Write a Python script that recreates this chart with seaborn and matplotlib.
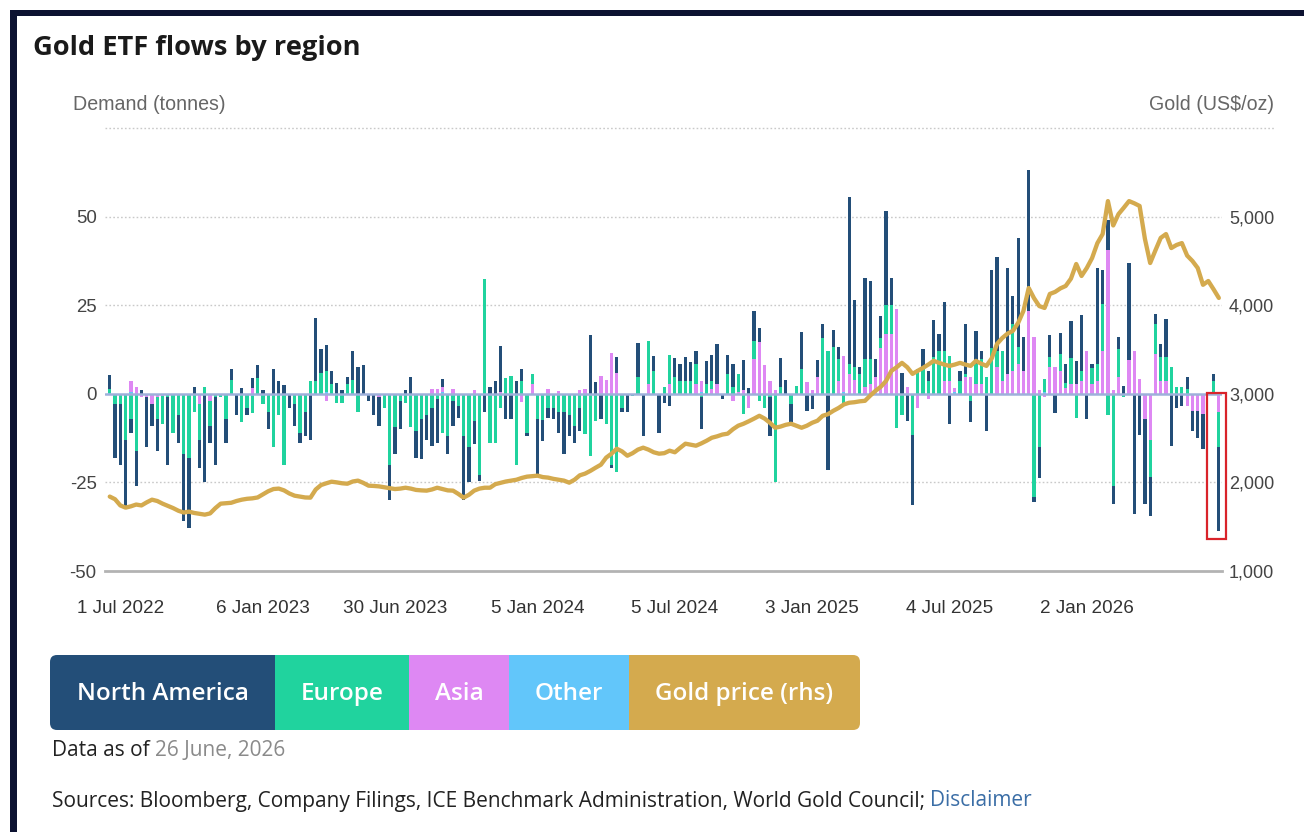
import numpy as np
import pandas as pd
import matplotlib
matplotlib.use("Agg")
import matplotlib.pyplot as plt
from matplotlib.patches import Rectangle, FancyBboxPatch
from matplotlib.lines import Line2D
from matplotlib.transforms import IdentityTransform
import seaborn as sns

# ---------------------------------------------------------------- data
START = "2022-06-17"          # first weekly observation (Friday)

NORTH_AMERICA = [
    4, -15, -17, -19, -4, -10, 1, -14, -6, -9,
    0, -19, 0, -8, -19, -20, 2, -8, -25, -5,
    -19, 0, -7, 3, -6, 1.5, -2, 3, 3.5, 1,
    -5, 7, 3.5, 2.5, -4, -6, -3, -7, -13, 18,
    6.6, 7.4, 3.8, 3, 1, 1.9, 8, 7.5, 8, -2,
    -6, -8, 0, -10, -7.5, -8, 1, 4.6, -7.5, -11.5,
    -7, -10.7, -12.5, 2.4, -5, -7, -3.3, -18, -10, -6.6,
    -1.6, -5, 2, 3.5, 13, -7, -7, 3.7, 3.3, -1,
    0, -15.7, -5.8, -2.7, -3, -6, -12, -6, -5, -6.5,
    0, 16.6, 3.2, -7, 0, -1, 4.5, -1, -5, 0,
    9.7, -12, 0, 4.2, -11, -2.5, -3.5, 5.6, 4.7, 6.6,
    5.2, 3.6, -9, 6.6, 7.4, 11.3, -1.5, 5.5, 6.6, 0,
    8.5, 1.6, 8.3, 4, 0, -11, 0, 8, 4, -5,
    0, 10.4, -4.8, -4.4, 5, 4, -21.4, 4.7, 3.3, 0,
    47, 19, 2, 22.8, 22, 5.2, 6.2, 26.6, 7.6, 0,
    6, -7.7, -20, 0, 5.2, 2.8, 10.6, 4.7, 13.8, -8.6,
    0, 2.8, 14, -6, 9.4, 2.5, -10.5, 22, 26.4, 0,
    30, 8, 31, 9.4, 39.6, -1.5, -8.7, 0, 6, -5.3,
    6, 5.5, 10.4, 6.5, 15.6, -7.2, 1, 27, 9.4, 8.5,
    -5, 3.3, 2.3, 27.5, -34, -11.5, -24, -11, 2.8, 3.8,
    10.9, -14.8, -4, -3.4, 3.3, -5.7, -7.7, -9.9, 0, 1.9,
    -23.7,
]

EUROPE = [
    1, -3, -3, -13, -7, -16, 0, 0, 0, -6,
    -8, -1, -11, -6, -17, -18, -5, -10, 2, -7,
    -1, -1, -7, 4, 0, -8, -4, -5, 4.5, -3,
    -5, -15, -6, -20, 0, -3, -11, -5, 3.7, 3.5,
    6, 6, 2.7, -2.5, -2.5, 2.7, 4, -5, 0, 0,
    0, 0, -4, -20, -9.5, -2, -2.5, -9.5, -10.5, -7,
    -6, -4, -1.5, -11, -12, -2, -3.4, -12, -15, -7.6,
    -23, 32.5, -13.8, -14, -3.9, 4.4, 5, -20, 3.7, -11,
    3, -7, -7.5, -4, -4, -5, -5, -6, -9, -4,
    -11.4, -17.5, -7.6, 0, -8.6, -20, -22, -4, 0, -0.5,
    4.6, 0, 12.3, 6.5, 0, 2, 8.3, 4.6, 3.7, 3.7,
    3.7, 5.7, -1, 2.7, 2.3, 0, 0, 5.5, 1.8, 5,
    -5.8, 0, 5.2, -2, -4, -1, -25, 2, 0, -3,
    2.3, 7, 0, 0, 0, 15.8, 12.2, 13.2, 6.2, -3,
    3, 3.5, 5.5, 8, 7, 0, 2.8, 8, 8, -9.6,
    -6, 0, -11.5, 7, 7.5, 3.7, 10.3, 12.2, 8.5, 7,
    0, 3.7, 1, -2, 5.7, 7, 4.6, 13, 4.7, 8.5,
    0, 13.2, 4.7, 0, 0, -29, -15, 3.7, 3, 0,
    4.7, 1.5, 7.5, -6.7, 2.8, 0, 4.7, 4.7, 13.2, -6,
    -26, 8, -1, 0, 0, 0, 0, -10.4, 8.5, 6.6,
    6.6, 7.5, 1.8, 1.8, 1.3, 0, 0, 0, 0, 3.7,
    -10,
]

ASIA = [
    0, 0, 0, 0, 3, 2, -1, -1, -3, -1,
    -0.5, 0, 0, 0, 0, 0, 0, -3, 0, -2,
    0, 0, 0, 0, 0, 0, 0, 1.5, 0, 0,
    0, 0, 0, 0, 0, 0, 0, 0, 0, 0,
    0, -2, 0, 0, 0, 0, 0, 0, 0, 0,
    0, -1, 0, 0, 0, 0, 0, 0, 0, 0,
    0, 1.3, 1.3, 1.3, 0, 1.3, 0, 0, 0, 1,
    0, 0, 0, 0, 0.5, 0, 0, 0, -2, 0,
    2.7, 0, 0, 1.3, 0, 0.8, 0, 0, 0, 1,
    1.3, 0, 0, 5, 4, 11.5, 6, 0, 0, 0,
    0, 0, 2.7, 0, 0, 0, 2.7, 0, 0, 0,
    0, 2.7, 3.2, 0, 1.3, 2.7, 0, 0, -2, 0.5,
    1, -4, 9.8, 14.5, 8, 3.7, 1, 0, 0, 0,
    0, 0, 3.2, 1, 4.6, 0, 0, 0, 3.7, 10.3,
    5.5, 4, 0, 1.8, 2.7, 4.7, 13, 17, 17, 24,
    0, 2, 0, -4, 0, -1.5, 0, 0, 3.7, 3.7,
    1, 0, 4.6, 4.6, 2.7, 2.7, 0, 0, 7.5, 3.7,
    5.6, 6.5, 8.4, 6.5, 23.5, 16, 1, -1, 7.5, 7.5,
    6.5, 1.5, 2.7, 2.8, 3.7, 12, 2.7, 3.7, 12.2, 40.5,
    1, 4.7, 0, 9.4, 12, 4.2, -7, -13, 11.3, 3.7,
    3.7, 0, 0, 0, -3, -4.8, -4.8, -5.8, 0, 0,
    -5,
]

OTHER = [
    0.3, 0, 0, 0, 0.5, 0, 0, 0, 0, 0,
    0, 0, 0, 0, 0, 0, 0, 0, 0, 0,
    0, 0, 0, 0, 0, 0, 0, -0.5, 0, 0,
    0, 0, 0, 0, 0, 0, 0, 0, 0, 0,
    0, 0.4, 0, 0, 0, 0, 0, 0, 0, 0,
    0, 0, 0, 0, 0, 0, 0, 0, 0, 0,
    0, 0, 0, 0.5, 0, 0, 0, 0, 0, 0,
    0, 0, 0, 0, 0, 0, 0, 0, -0.4, 0,
    0, 0, 0, 0, 0, 0, 0, 0, 0, 0,
    0, 0, 0, 0, 0, 0, 0, 0, 0, 0,
    0, 0, 0, 0, 0, 0, 0, 0, 0, 0,
    0, 0, 0.5, 0, 0, 0, 0, 0, 0, 0,
    0, 0, 0, 0, 0, 0, 0, 0, 0, 0,
    0, 0, 0, 0, 0, 0, 0, 0, 0, 0.4,
    0, 0, 0, 0, 0, 0, 0, 0, 0, 0,
    0, 0, 0, 0, 0, 0, 0, 0, 0, 0,
    0.6, 0, 0, 0, 0, 0, 0, 0, 0, 0,
    0, 0, 0, 0, 0, 0, 0, 0.5, 0, 0,
    0, 0, 0, 0, 0, 0, 0, 0, 0, 0,
    0, 0, 0, 0, 0, 0, 0, 0, 0, 0,
    0, 0, 0, 0, -0.5, 0, 0, 0, 0, 0,
    0,
]

GOLD_PRICE = [
    1840, 1810, 1740, 1715, 1730, 1750, 1740, 1775, 1805, 1790,
    1760, 1735, 1710, 1680, 1660, 1670, 1655, 1645, 1636, 1650,
    1710, 1760, 1765, 1770, 1790, 1805, 1815, 1820, 1830, 1865,
    1900, 1925, 1930, 1910, 1875, 1850, 1840, 1830, 1828, 1920,
    1970, 1990, 2008, 2000, 1990, 1985, 2010, 2020, 1995, 1963,
    1960, 1955, 1945, 1935, 1925, 1930, 1940, 1930, 1915, 1910,
    1907, 1920, 1940, 1925, 1910, 1907, 1870, 1828, 1860, 1907,
    1930, 1940, 1940, 1980, 1995, 2010, 2020, 2030, 2050, 2065,
    2070, 2076, 2060, 2054, 2040, 2030, 2020, 1997, 2030, 2080,
    2099, 2130, 2166, 2200, 2280, 2324, 2380, 2350, 2301, 2330,
    2370, 2392, 2370, 2340, 2324, 2330, 2358, 2340, 2390, 2437,
    2425, 2414, 2440, 2470, 2504, 2520, 2540, 2550, 2600, 2640,
    2662, 2690, 2720, 2752, 2720, 2673, 2617, 2630, 2650, 2662,
    2640, 2617, 2640, 2673, 2696, 2752, 2770, 2808, 2840, 2880,
    2899, 2905, 2915, 2921, 2980, 3034, 3080, 3146, 3259, 3300,
    3349, 3300, 3225, 3260, 3293, 3330, 3372, 3350, 3330, 3315,
    3330, 3349, 3330, 3315, 3372, 3340, 3315, 3400, 3563, 3630,
    3680, 3710, 3800, 3935, 4194, 4080, 3990, 3969, 4127, 4150,
    4190, 4217, 4300, 4465, 4330, 4420, 4532, 4700, 4803, 5175,
    4900, 5028, 5100, 5175, 5150, 5120, 4750, 4476, 4620, 4760,
    4803, 4645, 4680, 4701, 4560, 4499, 4420, 4230, 4273, 4180,
    4082,
]

TICK_DATES = ["2022-07-01", "2023-01-06", "2023-06-30", "2024-01-05",
              "2024-07-05", "2025-01-03", "2025-07-04", "2026-01-02"]
TICK_LABELS = ["1 Jul 2022", "6 Jan 2023", "30 Jun 2023", "5 Jan 2024",
               "5 Jul 2024", "3 Jan 2025", "4 Jul 2025", "2 Jan 2026"]
LEFT_TICKS = [-50, -25, 0, 25, 50]
RIGHT_TICKS = [1000, 2000, 3000, 4000, 5000]
REGIONS = ["North America", "Europe", "Asia", "Other"]
LEGEND_LABELS = ["North America", "Europe", "Asia", "Other", "Gold price (rhs)"]

# ---------------------------------------------------------------- style
COLORS = {
    "North America": "#234e78",
    "Europe": "#20d39e",
    "Asia": "#de88f3",
    "Other": "#62c6fa",
    "Gold price (rhs)": "#d4aa4e",
}
W, H = 1304, 832

sns.set_theme(style="white")
plt.rcParams["font.family"] = ["Liberation Sans", "DejaVu Sans"]

fig = plt.figure(figsize=(W / 100, H / 100), dpi=100)
fig.patch.set_facecolor("white")


def fx(x):
    return x / W


def fy(y):
    return 1 - y / H


# plot area: left 105 px, right 1222 px, y from 128 (75 t) down to 571 (-50 t)
ax = fig.add_axes([fx(105), fy(571), fx(1222) - fx(105), fy(128) - fy(571)])
ax.set_facecolor("none")

weeks = pd.date_range(START, periods=len(GOLD_PRICE), freq="7D")
idx = np.arange(len(weeks))
series = {"North America": NORTH_AMERICA, "Europe": EUROPE,
          "Asia": ASIA, "Other": OTHER}

# stacked bars: Other next to zero, then Asia, Europe, North America outward
pos = np.zeros(len(idx))
neg = np.zeros(len(idx))
layers = []
for name in ["Other", "Asia", "Europe", "North America"]:
    v = np.asarray(series[name], dtype=float)
    pos = pos + np.clip(v, 0, None)
    neg = neg + np.clip(v, None, 0)
    layers.append((name, pos.copy(), neg.copy()))

for name, p, q in reversed(layers):
    for h in (p, q):
        sns.barplot(x=idx, y=h, native_scale=True, orient="x",
                    color=COLORS[name], saturation=1, width=0.62,
                    linewidth=0, errorbar=None, ax=ax, zorder=2)

ax.set_xlim(-0.9, 210.6)
ax.set_ylim(-50, 75)

# gridlines and zero line
for g in (50, 25, -25):
    ax.axhline(g, color="#c9c9c9", lw=1.0, ls=(0, (1.2, 1.6)), zorder=0)
ax.axhline(0, color="#9eb0da", lw=1.8, zorder=3)

for s in ("top", "left", "right"):
    ax.spines[s].set_visible(False)
ax.spines["bottom"].set_color("#b3b3b3")
ax.spines["bottom"].set_linewidth(2)

tick_pos = [(pd.Timestamp(d) - weeks[0]).days // 7 for d in TICK_DATES]
ax.set_xticks(tick_pos)
ax.set_xticklabels(TICK_LABELS)
ax.set_yticks(LEFT_TICKS)
ax.set_yticklabels([f"{t}" for t in LEFT_TICKS])
ax.tick_params(axis="x", length=12, width=1.3, color="#8a8a8a",
               direction="out", pad=9, labelsize=13.6, labelcolor="#333333")
ax.tick_params(axis="y", length=0, pad=6, labelsize=13.4, labelcolor="#444444")
ax.set_xlabel("")
ax.set_ylabel("")
ax.grid(False)

# gold price on the right-hand axis
ax2 = ax.twinx()
sns.lineplot(x=idx, y=GOLD_PRICE, ax=ax2, color=COLORS["Gold price (rhs)"],
             lw=3.1, zorder=5)
ax2.set_ylim(1000, 6000)
ax2.set_yticks(RIGHT_TICKS)
ax2.set_yticklabels([f"{t:,}" for t in RIGHT_TICKS])
ax2.tick_params(axis="y", length=0, pad=5, labelsize=13, labelcolor="#444444")
ax2.set_ylabel("")
ax2.grid(False)
for s in ax2.spines.values():
    s.set_visible(False)
ax2.set_xlim(-0.9, 210.6)

# top rule under the axis headers
fig.add_artist(Line2D([fx(105), fx(1275)], [fy(128), fy(128)],
                      color="#c9c9c9", lw=1.0, ls=(0, (1.2, 1.6))))

# frame
ident = IdentityTransform()
fig.add_artist(Rectangle((10, H - 16), W - 10, 6, transform=ident,
                         color="#0c1231", lw=0))
fig.add_artist(Rectangle((10, 0), 7, H - 10, transform=ident,
                         color="#0c1231", lw=0))

# red highlight box around the latest week
fig.add_artist(Rectangle((1207, H - 539), 19, 146, transform=ident,
                         fill=False, edgecolor="#d9232a", lw=1.6))

# titles
fig.text(fx(33), fy(48), "Gold ETF flows by region", fontsize=19.6,
         fontweight="bold", family=["Open Sans", "DejaVu Sans"],
         color="#1a1a1a", va="center", ha="left")
fig.text(fx(73), fy(104), "Demand (tonnes)", fontsize=14.1, color="#666666",
         va="center", ha="left")
fig.text(fx(1274), fy(104), "Gold (US$/oz)", fontsize=14.1, color="#666666",
         va="center", ha="right")

# legend band
bounds = [50, 275, 409, 509, 629, 860]
top, bot = 655, 730
band = FancyBboxPatch((bounds[0], H - bot), bounds[-1] - bounds[0], bot - top,
                      boxstyle="round,pad=0,rounding_size=7",
                      transform=ident, facecolor="none", edgecolor="none")
fig.add_artist(band)
for i, lab in enumerate(LEGEND_LABELS):
    x0, x1 = bounds[i], bounds[i + 1]
    r = Rectangle((x0, H - bot), x1 - x0, bot - top, transform=ident,
                  facecolor=COLORS[lab], edgecolor="none")
    fig.add_artist(r)
    r.set_clip_path(band)
    fig.text(fx((x0 + x1) / 2), fy((top + bot) / 2 + 1), lab, color="white",
             fontsize=17.5, fontweight="semibold",
             family=["Open Sans", "DejaVu Sans"], ha="center", va="center")

# notes
renderer = fig.canvas.get_renderer()
body = dict(fontsize=15, family=["Open Sans", "DejaVu Sans"], va="center",
            ha="left")
t1 = fig.text(fx(52), fy(750), "Data as of ", color="#222222", **body)
bb = t1.get_window_extent(renderer)
fig.text(bb.x1 / W, fy(750), "26 June, 2026", color="#8a8a8a", **body)

t2 = fig.text(fx(52), fy(801),
              "Sources: Bloomberg, Company Filings, ICE Benchmark "
              "Administration, World Gold Council; ",
              color="#222222", **body)
bb = t2.get_window_extent(renderer)
fig.text(bb.x1 / W, fy(801), "Disclaimer", color="#3b6ea6", **body)

fig.savefig("out.png", dpi=100)
